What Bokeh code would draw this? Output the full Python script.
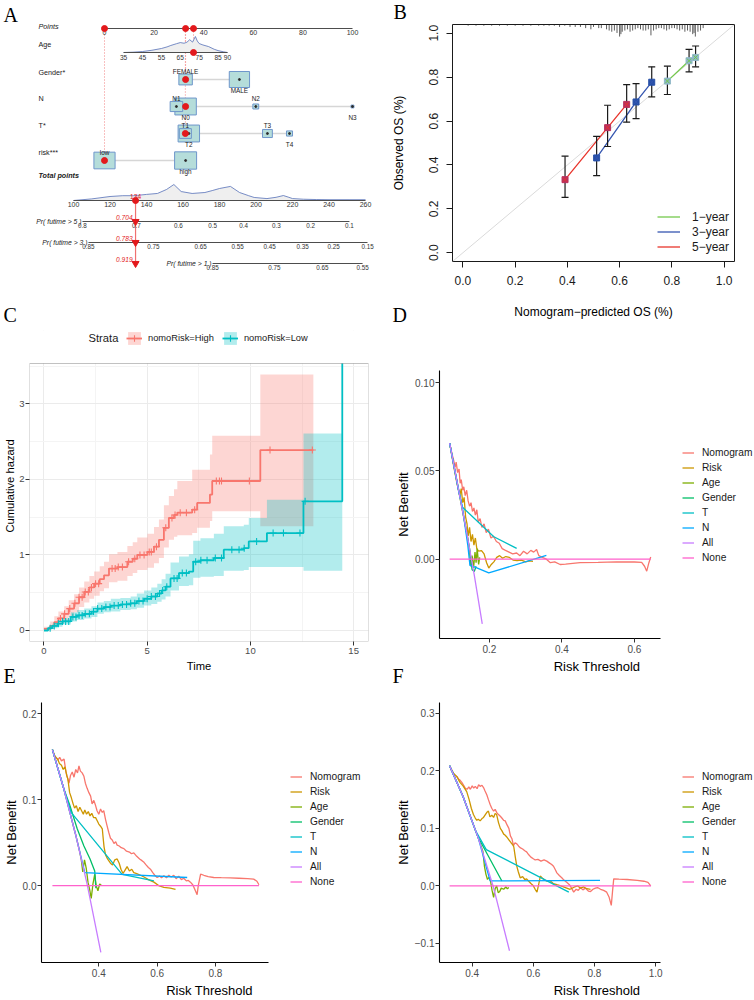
import numpy as np
from bokeh.plotting import figure
from bokeh.layouts import row, column
from bokeh.models import (Range1d, Label, Legend, LegendItem, FixedTicker, BoxAnnotation,
                          CustomJSTickFormatter)
from bokeh.core.properties import value
from bokeh.embed import file_html
from bokeh.resources import INLINE

SANS = "Liberation Sans"
SERIF = "Liberation Serif"
MARK_RED = "#E3191C"

# ===================== A. nomogram data =====================
POINTS_TICKS = [0, 20, 40, 60, 80, 100]
AGE_TICKS = [35, 45, 55, 65, 75, 85, 90]
AGE_ENDS = [35, 90]
AGE_ENDS_POINTS = [7.7, 49.6]
AGE_DENS_X = [35, 40, 45, 50, 55, 58, 60, 63, 65, 67, 68.5, 70, 71.5, 73, 74, 75, 77, 80, 83, 85, 88, 90]
AGE_DENS_Y = [0.0, 0.02, 0.06, 0.14, 0.25, 0.35, 0.44, 0.55, 0.62, 0.58, 0.64, 0.8, 0.65, 1.0, 0.72,
              0.56, 0.47, 0.37, 0.2, 0.12, 0.04, 0.0]

GENDER_LEVELS = ["FEMALE", "MALE"]
GENDER_POINTS = [32.7, 54.4]
GENDER_COUNTS = [150, 340]
N_LEVELS = ["N0", "N1", "N2", "N3"]
N_POINTS = [32.7, 29.0, 61.0, 100.0]
N_COUNTS = [380, 130, 28, 7]
T_LEVELS = ["T1", "T2", "T3", "T4"]
T_POINTS = [32.6, 34.0, 65.7, 74.6]
T_COUNTS = [120, 380, 80, 30]
RISK_LEVELS = ["low", "high"]
RISK_POINTS = [0.0, 32.7]
RISK_COUNTS = [370, 400]

PATIENT_AGE = 72
PATIENT_GENDER, PATIENT_N, PATIENT_T, PATIENT_RISK = "FEMALE", "N0", "T1", "low"
PATIENT_TOTAL = 134
PATIENT_SURV = ["0.704", "0.783", "0.919"]

TOTAL_TICKS = [100, 120, 140, 160, 180, 200, 220, 240, 260]
TOTAL_DENS_X = [100, 110, 120, 127, 133, 140, 146, 151, 155, 159, 165, 172, 176, 180, 186, 191, 196,
                199, 206, 211, 215, 218, 220, 226, 233, 240, 251, 260]
TOTAL_DENS_Y = [0.0, 0.1, 0.25, 0.3, 0.3, 0.38, 0.44, 0.69, 1.0, 0.56, 0.44, 0.5, 0.62, 0.75, 0.88,
                0.5, 0.3, 0.19, 0.12, 0.2, 0.31, 0.2, 0.12, 0.08, 0.06, 0.05, 0.05, 0.05]

SURV5_LABELS = ["0.8", "0.7", "0.6", "0.5", "0.4", "0.3", "0.2", "0.1"]
SURV5_TOTAL = [104.9, 134.5, 157.5, 176.2, 193.2, 211.2, 229.9, 251.2]
SURV3_LABELS = ["0.85", "0.75", "0.65", "0.55", "0.45", "0.35", "0.25", "0.15"]
SURV3_TOTAL = [108.2, 143.8, 169.6, 189.9, 207.4, 225.5, 242.5, 261.1]
SURV1_LABELS = ["0.85", "0.75", "0.65", "0.55"]
SURV1_TOTAL = [176.2, 210.1, 236.4, 258.4]

# ===================== B. calibration data =====================
CAL_NAMES = ["1\u2212year", "3\u2212year", "5\u2212year"]
CAL1_PRED = [0.783, 0.866, 0.891]
CAL1_OBS = [0.782, 0.875, 0.890]
CAL1_LO = [0.721, 0.824, 0.847]
CAL1_HI = [0.850, 0.927, 0.942]
CAL3_PRED = [0.512, 0.663, 0.723]
CAL3_OBS = [0.432, 0.687, 0.777]
CAL3_LO = [0.351, 0.611, 0.710]
CAL3_HI = [0.530, 0.771, 0.847]
CAL5_PRED = [0.391, 0.554, 0.627]
CAL5_OBS = [0.333, 0.570, 0.676]
CAL5_LO = [0.252, 0.484, 0.595]
CAL5_HI = [0.440, 0.672, 0.766]
RUG_X = [0.02, 0.05, 0.08, 0.11, 0.14, 0.17, 0.2, 0.23, 0.26, 0.29, 0.31, 0.33, 0.35, 0.37, 0.39,
         0.41, 0.43, 0.45, 0.47, 0.49, 0.5, 0.52, 0.53, 0.55, 0.56, 0.57, 0.58, 0.59, 0.6, 0.605,
         0.61, 0.62, 0.63, 0.64, 0.65, 0.66, 0.67, 0.68, 0.69, 0.7, 0.71, 0.72, 0.73, 0.74, 0.75,
         0.76, 0.77, 0.78, 0.79, 0.8, 0.81, 0.82, 0.83, 0.84, 0.85, 0.86, 0.87, 0.88, 0.885, 0.89,
         0.9, 0.91, 0.92]
RUG_N = [1, 1, 1, 1, 1, 1, 1, 1, 1, 1, 1, 1, 1, 2, 1, 2, 2, 2, 3, 4, 2, 3, 3, 4, 5, 6, 5, 7, 10, 8,
         6, 5, 4, 6, 5, 4, 3, 4, 5, 5, 4, 9, 5, 4, 3, 3, 4, 5, 4, 3, 3, 4, 5, 4, 6, 5, 6, 8, 7, 10,
         6, 5, 3]

# ===================== C. cumulative hazard data =====================
HIGH_T = [0.0, 0.3, 0.5, 0.7, 0.98, 1.2, 1.46, 1.7, 1.95, 2.2, 2.43, 2.7, 2.91, 3.15, 3.56, 4.04,
          4.3, 4.52, 5.01, 5.33, 5.57, 5.81, 6.05, 6.3, 6.46, 7.18, 7.42, 8.04, 8.15, 10.48, 13.05]
HIGH_H = [0.02, 0.06, 0.11, 0.16, 0.22, 0.29, 0.36, 0.44, 0.51, 0.57, 0.62, 0.68, 0.73, 0.82, 0.84,
          0.91, 0.95, 1.0, 1.04, 1.11, 1.2, 1.36, 1.49, 1.53, 1.56, 1.6, 1.69, 1.8, 1.98, 2.39, 2.39]
HIGH_LO = [0.0, 0.02, 0.05, 0.09, 0.13, 0.18, 0.24, 0.31, 0.37, 0.42, 0.46, 0.52, 0.56, 0.64, 0.66,
           0.72, 0.76, 0.8, 0.83, 0.89, 0.96, 1.1, 1.2, 1.24, 1.26, 1.29, 1.36, 1.45, 1.58, 1.38, 1.38]
HIGH_HI = [0.05, 0.12, 0.19, 0.25, 0.32, 0.4, 0.48, 0.57, 0.65, 0.72, 0.78, 0.85, 0.91, 1.01, 1.04,
           1.12, 1.17, 1.23, 1.28, 1.37, 1.47, 1.66, 1.78, 1.87, 1.98, 2.13, 2.13, 2.33, 2.58, 3.39, 3.39]
HIGH_CENSOR = [0.8, 1.0, 1.25, 1.5, 1.7, 1.85, 2.0, 2.15, 2.3, 2.5, 2.65, 3.3, 3.45, 3.6, 3.8, 4.1,
               4.4, 4.65, 4.85, 5.1, 5.2, 5.45, 5.9, 6.2, 6.35, 6.6, 6.9, 7.3, 8.35, 8.5, 8.6, 9.95,
               10.95, 13.0]
LOW_T = [0.0, 0.2, 0.4, 0.66, 0.9, 1.3, 1.6, 1.95, 2.3, 2.59, 2.9, 3.24, 3.7, 4.2, 4.5, 4.85, 5.2,
         5.49, 5.7, 5.89, 6.13, 6.54, 7.02, 7.23, 7.58, 8.23, 8.71, 9.68, 9.92, 10.8, 12.57, 14.45]
LOW_H = [0.0, 0.03, 0.06, 0.09, 0.12, 0.18, 0.2, 0.22, 0.25, 0.29, 0.31, 0.33, 0.345, 0.36, 0.39,
         0.42, 0.45, 0.49, 0.53, 0.58, 0.69, 0.76, 0.78, 0.91, 0.93, 0.96, 1.07, 1.09, 1.18, 1.29,
         1.71, 3.8]
LOW_LO = [0.0, 0.01, 0.03, 0.05, 0.08, 0.12, 0.14, 0.16, 0.18, 0.22, 0.24, 0.25, 0.27, 0.28, 0.3,
          0.33, 0.35, 0.38, 0.41, 0.45, 0.53, 0.59, 0.6, 0.7, 0.71, 0.72, 0.79, 0.8, 0.84, 0.84,
          0.79, 0.79]
LOW_HI = [0.01, 0.05, 0.09, 0.13, 0.16, 0.24, 0.27, 0.29, 0.32, 0.37, 0.39, 0.42, 0.43, 0.45, 0.49,
          0.53, 0.57, 0.62, 0.68, 0.75, 0.9, 0.98, 1.01, 1.19, 1.22, 1.28, 1.38, 1.4, 1.49, 1.73,
          2.61, 2.61]
LOW_CENSOR = [0.3, 0.5, 0.7, 0.9, 1.05, 1.2, 1.4, 1.55, 1.7, 1.85, 2.0, 2.2, 2.4, 2.6, 2.8, 3.0, 3.2,
              3.4, 3.6, 3.8, 4.0, 4.2, 4.4, 4.6, 4.8, 5.0, 5.2, 5.4, 5.6, 5.75, 5.95, 6.3, 6.45, 6.7,
              6.9, 7.35, 7.6, 7.9, 8.3, 8.6, 9.1, 9.45, 9.7, 10.3, 11.1, 11.6, 12.4, 12.65]

# ===================== D/E/F. decision curves =====================
DCA_NAMES = ["Nomogram", "Risk", "Age", "Gender", "T", "N", "All", "None"]
DCA_COLORS = ["#F8766D", "#CD9600", "#7CAE00", "#00BE67", "#00BFC4", "#00A9FF", "#C77CFF", "#FF61CC"]

D_NOMOGRAM = [(0.090, 0.0657), (0.096, 0.060), (0.101, 0.056), (0.105, 0.052), (0.108, 0.055),
              (0.112, 0.049), (0.116, 0.051), (0.119, 0.043), (0.122, 0.045), (0.126, 0.039),
              (0.129, 0.041), (0.133, 0.036), (0.137, 0.039), (0.141, 0.033), (0.145, 0.030),
              (0.149, 0.032), (0.153, 0.027), (0.157, 0.029), (0.161, 0.025), (0.165, 0.028),
              (0.169, 0.021), (0.174, 0.023), (0.179, 0.018), (0.185, 0.020), (0.191, 0.015),
              (0.197, 0.017), (0.204, 0.012), (0.211, 0.013), (0.219, 0.010), (0.227, 0.009),
              (0.235, 0.006), (0.244, 0.005), (0.254, 0.004), (0.264, 0.003), (0.275, 0.0035),
              (0.284, 0.002), (0.294, 0.0045), (0.304, 0.003), (0.314, 0.005), (0.322, 0.004),
              (0.330, 0.0055), (0.336, 0.002), (0.346, 0.001), (0.357, 0.0), (0.368, -0.002),
              (0.380, -0.0015), (0.395, -0.003), (0.410, -0.0028), (0.450, -0.002), (0.500, -0.0018),
              (0.550, -0.0015), (0.600, -0.0016), (0.620, -0.0018), (0.628, -0.004), (0.634, -0.0068),
              (0.640, -0.002), (0.645, 0.0012)]
D_RISK = [(0.090, 0.0657), (0.100, 0.054), (0.110, 0.043), (0.118, 0.036), (0.122, 0.040),
          (0.126, 0.032), (0.130, 0.035), (0.134, 0.024), (0.138, 0.020), (0.141, 0.013),
          (0.145, 0.018), (0.149, 0.010), (0.153, 0.014), (0.157, 0.008), (0.161, 0.012),
          (0.165, 0.006), (0.170, 0.0045), (0.178, 0.0048), (0.185, 0.003), (0.192, -0.002),
          (0.198, -0.005), (0.205, -0.003), (0.212, -0.0015), (0.220, 0.001), (0.228, 0.002),
          (0.236, 0.0005), (0.245, 0.0015), (0.255, 0.001), (0.265, -0.0005), (0.276, -0.0008),
          (0.288, -0.0005), (0.300, -0.0015), (0.310, -0.001), (0.320, -0.0012)]
D_AGE = [(0.090, 0.0657), (0.115, 0.0385), (0.140, 0.0116), (0.145, 0.005), (0.148, -0.004),
         (0.152, 0.002), (0.156, -0.005), (0.160, 0.004), (0.163, -0.002), (0.166, 0.006),
         (0.170, -0.003), (0.173, 0.001)]
D_GENDER = [(0.090, 0.0657), (0.120, 0.034), (0.145, 0.006), (0.152, -0.006), (0.158, -0.007),
            (0.163, -0.004)]
D_T = [(0.090, 0.0657), (0.115, 0.0385), (0.125, 0.0295), (0.212, 0.0127), (0.275, 0.0061)]
D_N = [(0.090, 0.0657), (0.115, 0.0385), (0.125, 0.0295), (0.140, 0.008), (0.146, -0.0035),
       (0.160, -0.0045), (0.198, -0.0078), (0.357, 0.0021)]
D_ALL = [(0.090, 0.0657), (0.113, 0.041), (0.135, 0.0174), (0.158, -0.009), (0.180, -0.0366)]
D_NONE = [(0.090, 0.0), (0.645, 0.0)]

E_NOMOGRAM = [(0.241, 0.158), (0.247, 0.152), (0.253, 0.149), (0.260, 0.146), (0.266, 0.149),
              (0.272, 0.145), (0.281, 0.147), (0.287, 0.133), (0.292, 0.126), (0.298, 0.119),
              (0.303, 0.128), (0.309, 0.132), (0.315, 0.126), (0.321, 0.135), (0.327, 0.131),
              (0.332, 0.139), (0.337, 0.133), (0.343, 0.131), (0.349, 0.127), (0.354, 0.119),
              (0.360, 0.113), (0.366, 0.108), (0.372, 0.104), (0.377, 0.095), (0.383, 0.099),
              (0.389, 0.093), (0.394, 0.087), (0.400, 0.083), (0.406, 0.089), (0.412, 0.085),
              (0.417, 0.087), (0.423, 0.077), (0.428, 0.070), (0.434, 0.062), (0.440, 0.055),
              (0.446, 0.053), (0.452, 0.049), (0.458, 0.051), (0.463, 0.047), (0.470, 0.046),
              (0.477, 0.044), (0.486, 0.043), (0.495, 0.040), (0.505, 0.039), (0.512, 0.037),
              (0.520, 0.038), (0.530, 0.034), (0.540, 0.031), (0.548, 0.029), (0.555, 0.027),
              (0.562, 0.024), (0.570, 0.021), (0.577, 0.019), (0.585, 0.015), (0.592, 0.012),
              (0.600, 0.0094), (0.608, 0.011), (0.615, 0.009), (0.623, 0.0115), (0.632, 0.009),
              (0.640, 0.012), (0.648, 0.010), (0.657, 0.012), (0.665, 0.008), (0.674, 0.011),
              (0.683, 0.007), (0.691, 0.0085), (0.700, 0.0055), (0.707, 0.006), (0.714, 0.004),
              (0.722, 0.001), (0.730, -0.005), (0.737, -0.0105), (0.741, 0.0), (0.749, 0.0134),
              (0.760, 0.012), (0.775, 0.0105), (0.794, 0.0094), (0.820, 0.0092), (0.850, 0.009),
              (0.880, 0.0085), (0.910, 0.008), (0.931, 0.0075), (0.942, 0.005), (0.949, 0.001)]
E_RISK = [(0.241, 0.158), (0.250, 0.150), (0.259, 0.147), (0.265, 0.142), (0.272, 0.140),
          (0.278, 0.135), (0.284, 0.138), (0.290, 0.128), (0.294, 0.124), (0.300, 0.108),
          (0.306, 0.102), (0.312, 0.095), (0.317, 0.090), (0.323, 0.093), (0.329, 0.086),
          (0.335, 0.091), (0.341, 0.087), (0.347, 0.083), (0.352, 0.088), (0.358, 0.083),
          (0.364, 0.086), (0.370, 0.081), (0.376, 0.084), (0.382, 0.079), (0.389, 0.079),
          (0.395, 0.075), (0.400, 0.0715), (0.406, 0.069), (0.412, 0.066), (0.415, 0.055),
          (0.418, 0.045), (0.423, 0.036), (0.430, 0.031), (0.440, 0.026), (0.447, 0.024),
          (0.455, 0.030), (0.463, 0.031), (0.470, 0.026), (0.476, 0.019), (0.483, 0.014),
          (0.490, 0.018), (0.497, 0.022), (0.505, 0.017), (0.513, 0.019), (0.520, 0.015),
          (0.530, 0.014), (0.543, 0.012), (0.555, 0.010), (0.570, 0.007), (0.589, 0.004),
          (0.605, 0.0), (0.623, -0.002), (0.645, -0.003), (0.663, -0.0045)]
E_AGE = [(0.241, 0.158), (0.280, 0.1125), (0.320, 0.060), (0.334, 0.040), (0.340, 0.030),
         (0.345, 0.016), (0.351, 0.030), (0.357, 0.020), (0.363, 0.004), (0.369, -0.005),
         (0.374, -0.015), (0.380, 0.002), (0.386, 0.013), (0.391, 0.0), (0.397, -0.006),
         (0.403, 0.002), (0.409, 0.0)]
E_GENDER = [(0.241, 0.158), (0.280, 0.1125), (0.300, 0.094), (0.326, 0.066), (0.349, 0.046),
            (0.370, 0.031), (0.386, 0.017), (0.390, -0.003)]
E_T = [(0.241, 0.158), (0.280, 0.1125), (0.305, 0.085), (0.480, 0.013), (0.589, 0.0056)]
E_N = [(0.241, 0.158), (0.280, 0.1125), (0.320, 0.060), (0.345, 0.025), (0.352, 0.015), (0.703, 0.0094)]
E_ALL = [(0.241, 0.158), (0.280, 0.1125), (0.320, 0.060), (0.360, 0.0016), (0.407, -0.0776)]
E_NONE = [(0.241, 0.0), (0.949, 0.0)]

F_NOMOGRAM = [(0.326, 0.209), (0.333, 0.200), (0.338, 0.196), (0.344, 0.192), (0.350, 0.190),
              (0.355, 0.186), (0.360, 0.184), (0.366, 0.180), (0.372, 0.175), (0.377, 0.170),
              (0.383, 0.168), (0.389, 0.172), (0.394, 0.168), (0.400, 0.174), (0.405, 0.170),
              (0.410, 0.173), (0.416, 0.169), (0.421, 0.176), (0.426, 0.173), (0.432, 0.175),
              (0.437, 0.171), (0.442, 0.165), (0.448, 0.158), (0.453, 0.150), (0.459, 0.141),
              (0.464, 0.135), (0.470, 0.130), (0.475, 0.133), (0.481, 0.127), (0.486, 0.124),
              (0.492, 0.121), (0.497, 0.118), (0.503, 0.114), (0.508, 0.113), (0.514, 0.106),
              (0.520, 0.100), (0.525, 0.087), (0.530, 0.082), (0.535, 0.070), (0.540, 0.075),
              (0.546, 0.073), (0.552, 0.069), (0.558, 0.066), (0.565, 0.064), (0.572, 0.061),
              (0.578, 0.059), (0.585, 0.054), (0.592, 0.050), (0.600, 0.047), (0.606, 0.045),
              (0.615, 0.046), (0.625, 0.043), (0.635, 0.045), (0.644, 0.043), (0.652, 0.040),
              (0.660, 0.037), (0.666, 0.034), (0.672, 0.028), (0.677, 0.0226), (0.685, 0.018),
              (0.693, 0.014), (0.700, 0.010), (0.710, 0.0056), (0.718, 0.002), (0.725, -0.004),
              (0.732, -0.011), (0.740, -0.006), (0.747, -0.008), (0.754, -0.003), (0.762, -0.007),
              (0.770, -0.004), (0.780, -0.009), (0.787, -0.010), (0.795, -0.006), (0.803, -0.004),
              (0.810, -0.003), (0.820, -0.006), (0.830, -0.008), (0.840, -0.011), (0.848, -0.020),
              (0.855, -0.034), (0.859, -0.010), (0.863, 0.012), (0.880, 0.0115), (0.907, 0.011),
              (0.940, 0.0095), (0.962, 0.008), (0.975, 0.006), (0.984, 0.0)]
F_RISK = [(0.326, 0.209), (0.340, 0.195), (0.350, 0.190), (0.360, 0.180), (0.370, 0.174),
          (0.382, 0.164), (0.390, 0.150), (0.397, 0.135), (0.404, 0.124), (0.410, 0.118),
          (0.415, 0.114), (0.420, 0.116), (0.426, 0.113), (0.432, 0.117), (0.437, 0.119),
          (0.443, 0.124), (0.448, 0.128), (0.453, 0.130), (0.458, 0.120), (0.464, 0.123),
          (0.470, 0.119), (0.475, 0.126), (0.480, 0.124), (0.486, 0.110), (0.492, 0.100),
          (0.497, 0.096), (0.503, 0.090), (0.508, 0.088), (0.513, 0.085), (0.520, 0.080),
          (0.527, 0.075), (0.532, 0.072), (0.536, 0.068), (0.541, 0.050), (0.546, 0.034),
          (0.551, 0.024), (0.557, 0.014), (0.565, 0.016), (0.572, 0.011), (0.578, 0.012),
          (0.585, 0.008), (0.592, 0.004), (0.600, 0.0), (0.606, -0.006), (0.612, -0.011),
          (0.618, 0.004), (0.623, 0.017), (0.630, 0.013), (0.637, 0.010), (0.645, 0.008),
          (0.655, 0.009), (0.665, 0.004), (0.677, 0.002), (0.690, 0.0), (0.705, -0.003),
          (0.720, -0.006), (0.735, -0.002), (0.745, 0.0), (0.754, -0.004), (0.765, -0.002),
          (0.775, -0.005), (0.787, -0.006)]
F_AGE = [(0.326, 0.209), (0.370, 0.1556), (0.420, 0.083), (0.435, 0.060), (0.440, 0.034),
         (0.445, 0.020), (0.450, 0.011), (0.455, 0.015), (0.460, 0.008), (0.465, -0.008),
         (0.470, -0.020), (0.475, -0.005), (0.480, 0.0), (0.485, -0.012), (0.490, -0.010),
         (0.495, -0.004), (0.503, -0.006), (0.510, -0.002), (0.515, -0.005), (0.520, -0.003)]
F_GENDER = [(0.326, 0.209), (0.370, 0.1556), (0.420, 0.083), (0.426, 0.078), (0.497, 0.0085)]
F_T = [(0.326, 0.209), (0.370, 0.1556), (0.410, 0.097), (0.446, 0.063), (0.716, -0.011)]
F_N = [(0.326, 0.209), (0.370, 0.1556), (0.420, 0.083), (0.450, 0.025), (0.459, 0.0085), (0.818, 0.0096)]
F_ALL = [(0.326, 0.209), (0.370, 0.1556), (0.420, 0.083), (0.470, -0.0034), (0.522, -0.113)]
F_NONE = [(0.326, 0.0), (0.985, 0.0)]


# ===================== helpers =====================
def canvas_label(p, side, x, y, text, size, font=SANS, color="#000000", align="left", style="normal"):
    """Text placed in canvas pixels of figure p, held in one of its side panels."""
    lab = Label(x=x, y=y, x_units="canvas", y_units="canvas", text=text, text_font=font,
                text_font_size=size, text_color=color, text_align=align,
                text_baseline="middle", text_font_style=style)
    p.add_layout(lab, side)


def base_figure(w, h, xr, yr, left, right, top, bottom):
    p = figure(width=w, height=h, x_range=Range1d(*xr), y_range=Range1d(*yr),
               min_border_left=left, min_border_right=right, min_border_top=top,
               min_border_bottom=bottom, toolbar_location=None, output_backend="svg",
               frame_align=False)
    p.background_fill_color = "white"
    p.border_fill_color = "white"
    return p


def style_axes(p, tick_size, tick_color, title_size):
    for ax in (p.xaxis, p.yaxis):
        ax.major_label_text_font = SANS
        ax.major_label_text_font_size = tick_size
        ax.major_label_text_color = tick_color
        ax.axis_label_text_font = SANS
        ax.axis_label_text_font_size = title_size
        ax.axis_label_text_font_style = "normal"
        ax.axis_label_text_color = "#000000"
        ax.minor_tick_line_color = None


# ===================== A. nomogram =====================
A_W, A_H = 377, 328
PX_ZERO, PX_PER_POINT = 104.0, 2.48
TOTAL_PX = (73.0, 365.0)


def page_to_points(px):
    return (np.asarray(px, dtype=float) - PX_ZERO) / PX_PER_POINT


def total_to_points(tp):
    tp = np.asarray(tp, dtype=float)
    px = TOTAL_PX[0] + (tp - TOTAL_TICKS[0]) * (TOTAL_PX[1] - TOTAL_PX[0]) / (TOTAL_TICKS[-1] - TOTAL_TICKS[0])
    return page_to_points(px)


def age_to_points(a):
    return np.interp(a, AGE_ENDS, AGE_ENDS_POINTS)


pA = figure(width=A_W, height=A_H, x_range=Range1d(float(page_to_points(0)), float(page_to_points(A_W))),
            y_range=Range1d(A_H, 0), toolbar_location=None, output_backend="svg",
            x_axis_location=None, y_axis_location=None, min_border=0, frame_align=False)
pA.outline_line_color = None
pA.grid.visible = False

ROW = dict(points=28, age=52, gender=79, n=106, t=133, risk=160, total=200, s5=221, s3=242, s1=263)
LABEL_X = float(page_to_points(38))
AX_COL = "#4D4D4D"


def atext(x, y, s, size, color="#1A1A1A", align="left", style="normal", x_offset=0, font=SANS):
    xs = list(np.atleast_1d(np.asarray(x, dtype=float)))
    ys = list(np.broadcast_to(np.asarray(y, dtype=float), (len(xs),)))
    ss = list(np.broadcast_to(np.asarray(s), (len(xs),)))
    pA.text(x=xs, y=ys, text=[str(v) for v in ss], text_font=value(font),
            text_font_size=value(size), text_color=color, text_align=align,
            text_baseline="middle", text_font_style=style, x_offset=x_offset)


for lab, yy, st in [("Points", 26, "italic"), ("Age", 44, "normal"), ("Gender*", 72, "normal"),
                    ("N", 98, "normal"), ("T*", 125, "normal"), ("risk***", 152, "normal"),
                    ("Total points", 175, "bold italic")]:
    atext(LABEL_X, yy, lab, "7.2px", style=st)

# selection guides (drawn first so that marks sit on top)
age_pts = float(age_to_points(PATIENT_AGE))
sel_gender = GENDER_POINTS[GENDER_LEVELS.index(PATIENT_GENDER)]
sel_n = N_POINTS[N_LEVELS.index(PATIENT_N)]
sel_t = T_POINTS[T_LEVELS.index(PATIENT_T)]
sel_risk = RISK_POINTS[RISK_LEVELS.index(PATIENT_RISK)]
pA.segment(x0=[age_pts, sel_gender, sel_t, sel_risk], y0=ROW["points"],
           x1=[age_pts, sel_gender, sel_t, sel_risk], y1=[ROW["age"], ROW["gender"], ROW["t"], ROW["risk"]],
           line_color="#F08080", line_width=1, line_dash="1 2")

# points scale
pA.segment(x0=[0], y0=[ROW["points"]], x1=[100], y1=[ROW["points"]], line_color=AX_COL, line_width=1)
atext(POINTS_TICKS, ROW["points"] + 4.2, POINTS_TICKS, "7px", color="#333333", align="center")

# age scale with density
dens_x = age_to_points(AGE_DENS_X)
dens_top = ROW["age"] - np.array(AGE_DENS_Y) * 16
pA.varea(x=dens_x, y1=ROW["age"], y2=dens_top, fill_color="#EFEFEF")
pA.line(x=dens_x, y=dens_top, line_color="#5570B8", line_width=0.8)
pA.segment(x0=[age_to_points(AGE_ENDS[0])], y0=[ROW["age"]], x1=[age_to_points(AGE_ENDS[1])],
           y1=[ROW["age"]], line_color=AX_COL, line_width=1)
atext(age_to_points(AGE_TICKS), ROW["age"] + 4.5, AGE_TICKS, "6.6px", color="#333333", align="center")


def factor_row(levels, pts, counts, y, chosen):
    pts = np.array(pts, dtype=float)
    counts = np.array(counts, dtype=float)
    pA.segment(x0=[pts.min()], y0=[y], x1=[pts.max()], y1=[y], line_color="#D6D6D6", line_width=1.6)
    w = 1.1 * np.sqrt(counts)
    h = 0.76 * w + 0.6
    order = np.argsort(-counts)
    pA.rect(x=pts[order], y=y, width=w[order], height=h[order], width_units="screen",
            height_units="screen", fill_color="#B5DDDA", line_color="#6E96CB", line_width=1)
    pA.scatter(x=pts, y=y, size=2, color="#2B2B2B")
    rank = np.argsort(np.argsort(pts))
    for lev, x, r in zip(levels, pts, rank):
        atext(x, y - 8.2 if r % 2 == 0 else y + 10.6, lev, "6.4px", color="#1A1A1A", align="center")
    pA.scatter(x=[pts[levels.index(chosen)]], y=[y], size=6, color=MARK_RED)


factor_row(GENDER_LEVELS, GENDER_POINTS, GENDER_COUNTS, ROW["gender"], PATIENT_GENDER)
factor_row(N_LEVELS, N_POINTS, N_COUNTS, ROW["n"], PATIENT_N)
factor_row(T_LEVELS, T_POINTS, T_COUNTS, ROW["t"], PATIENT_T)
factor_row(RISK_LEVELS, RISK_POINTS, RISK_COUNTS, ROW["risk"], PATIENT_RISK)

pA.scatter(x=[age_pts], y=[ROW["age"]], size=6, color=MARK_RED)
pA.scatter(x=[age_pts, sel_gender, sel_risk], y=ROW["points"], size=6, color=MARK_RED)

# total points with density
tdx = total_to_points(TOTAL_DENS_X)
tdy = ROW["total"] - np.array(TOTAL_DENS_Y) * 16
pA.varea(x=tdx, y1=ROW["total"], y2=tdy, fill_color="#EFEFEF")
pA.line(x=tdx, y=tdy, line_color="#5570B8", line_width=0.8)
pA.segment(x0=[total_to_points(TOTAL_TICKS[0])], y0=[ROW["total"]],
           x1=[total_to_points(TOTAL_TICKS[-1])], y1=[ROW["total"]], line_color=AX_COL, line_width=1)
atext(total_to_points(TOTAL_TICKS), ROW["total"] + 4.2, TOTAL_TICKS, "7px", color="#333333", align="center")

tot_x = float(total_to_points(PATIENT_TOTAL))
pA.segment(x0=[tot_x], y0=[ROW["total"]], x1=[tot_x], y1=[ROW["s1"]], line_color="#F07070", line_width=1.2)
pA.scatter(x=[tot_x], y=[ROW["total"]], size=6, color=MARK_RED)
atext(tot_x, ROW["total"] - 4.5, str(PATIENT_TOTAL), "6.6px", color=MARK_RED, align="center")

for (labels, tps, y, name, val) in [
        (SURV5_LABELS, SURV5_TOTAL, ROW["s5"], "Pr( futime > 5 )", PATIENT_SURV[0]),
        (SURV3_LABELS, SURV3_TOTAL, ROW["s3"], "Pr( futime > 3 )", PATIENT_SURV[1]),
        (SURV1_LABELS, SURV1_TOTAL, ROW["s1"], "Pr( futime > 1 )", PATIENT_SURV[2])]:
    xs = total_to_points(tps)
    pA.segment(x0=[xs[0]], y0=[y], x1=[xs[-1]], y1=[y], line_color=AX_COL, line_width=1)
    atext(xs, y + 4.3, labels, "6.3px", color="#333333", align="center")
    atext(xs[0], y - 0.5, name, "6.8px", color="#1A1A1A", align="right", style="italic", x_offset=-1)
    pA.scatter(x=[tot_x], y=[y], marker="inverted_triangle", size=7, color=MARK_RED)
    atext(tot_x, y - 4.2, val, "6.6px", color=MARK_RED, align="right", style="italic", x_offset=-3)

# panel letters that fall inside this canvas
atext(page_to_points(3), 14, "A", "20px", color="#000000", font=SERIF)
atext(page_to_points(3), 314, "C", "20px", color="#000000", font=SERIF)

# ===================== B. calibration =====================
B_X, B_Y = 377, 0
B_W, B_H = 377, 343
B_L, B_R, B_T, B_B = 75, 20, 24, 82
pB = base_figure(B_W, B_H, (-0.04, 1.04), (-0.04, 1.04), B_L, B_R, B_T, B_B)
pB.grid.visible = False
pB.outline_line_color = "#1A1A1A"
pB.outline_line_width = 1
for ax in (pB.xaxis, pB.yaxis):
    ax.ticker = FixedTicker(ticks=[0, 0.2, 0.4, 0.6, 0.8, 1.0])
    ax.bounds = (0, 1)
    ax.formatter = CustomJSTickFormatter(code="return tick.toFixed(1);")
    ax.major_tick_out = 6
    ax.major_tick_in = 0
    ax.axis_line_color = "#1A1A1A"
    ax.major_tick_line_color = "#1A1A1A"
style_axes(pB, "12px", "#1A1A1A", "12px")
pB.yaxis.major_label_orientation = "vertical"
pB.xaxis.major_label_standoff = 8
pB.yaxis.major_label_standoff = 8
pB.xaxis.axis_label = "Nomogram\u2212predicted OS (%)"
pB.yaxis.axis_label = "Observed OS (%)"
pB.xaxis.axis_label_standoff = 17
pB.yaxis.axis_label_standoff = 21

pB.line(x=[-0.04, 1.04], y=[-0.04, 1.04], line_color="#DADADA", line_width=1)
rug_top = 1.04
rug_len = np.array(RUG_N) / max(RUG_N) * 0.055
pB.segment(x0=RUG_X, y0=rug_top, x1=RUG_X, y1=rug_top - rug_len, line_color="#333333", line_width=0.8)

CAL_LINE = ["#74C94C", "#3556B0", "#E8352C"]
CAL_FILL = ["#8FB7C9", "#2750A8", "#B8305E"]
cal_sets = [(CAL1_PRED, CAL1_OBS, CAL1_LO, CAL1_HI), (CAL3_PRED, CAL3_OBS, CAL3_LO, CAL3_HI),
            (CAL5_PRED, CAL5_OBS, CAL5_LO, CAL5_HI)]
cal_lines = []
for (pred, obs, lo, hi), lc in zip(cal_sets, CAL_LINE):
    cal_lines.append(pB.line(x=pred, y=obs, line_color=lc, line_width=1.3))
for (pred, obs, lo, hi), lc, fc in zip(cal_sets, CAL_LINE, CAL_FILL):
    pB.segment(x0=pred, y0=lo, x1=pred, y1=hi, line_color="#1A1A1A", line_width=1.2)
    pB.scatter(x=pred + pred, y=lo + hi, marker="dash", size=7, line_color="#1A1A1A", line_width=1.2)
    pB.scatter(x=pred, y=obs, marker="square", size=6, fill_color=fc, line_color=fc)
    pB.scatter(x=pred, y=obs, marker="x", size=6, line_color=lc, line_width=1)

legB = Legend(items=[LegendItem(label=n, renderers=[r]) for n, r in zip(CAL_NAMES, cal_lines)],
              location=(205, 6.8), orientation="vertical", padding=0, spacing=0, margin=0,
              glyph_width=23, glyph_height=15, label_height=15, label_standoff=12,
              label_text_font=SANS, label_text_font_size="12px", label_text_color="#1A1A1A",
              border_line_color=None, background_fill_alpha=0)
pB.add_layout(legB)
canvas_label(pB, "above", 393 - B_X, 11 - B_Y, "B", "20px", font=SERIF)
canvas_label(pB, "below", 392 - B_X, 314 - B_Y, "D", "20px", font=SERIF)

# ===================== C. cumulative hazard =====================
C_X, C_Y = 0, A_H
C_W, C_H = 377, 371
C_L, C_R, C_T, C_B = 29, 9, 2, 58
C_PX_PER_UNIT = 75.5
C_Y_DATA = (-0.146, 3.536)          # plotting window of the hazard axis
C_PANEL_TOP = 363                   # page y of the top edge of that window
c_top = C_Y_DATA[1] + (C_PANEL_TOP - (C_Y + C_T)) / C_PX_PER_UNIT
pC = base_figure(C_W, C_H, (-0.7, 15.72), (C_Y_DATA[0], c_top), C_L, C_R, C_T, C_B)
pC.outline_line_color = None
pC.xaxis.ticker = FixedTicker(ticks=[0, 5, 10, 15], minor_ticks=[2.5, 7.5, 12.5])
pC.yaxis.ticker = FixedTicker(ticks=[0, 1, 2, 3], minor_ticks=[0.5, 1.5, 2.5, 3.5])
pC.yaxis.bounds = C_Y_DATA
pC.grid.grid_line_color = "#EBEBEB"
pC.grid.minor_grid_line_color = "#F4F4F4"
style_axes(pC, "9.5px", "#4D4D4D", "11.2px")
for ax in (pC.xaxis, pC.yaxis):
    ax.axis_line_color = None
    ax.major_tick_out = 4
    ax.major_tick_in = 0
    ax.major_tick_line_color = "#333333"
    ax.major_label_standoff = 2
    ax.axis_label_standoff = 3
pC.yaxis.major_label_standoff = 1
pC.yaxis.axis_label_standoff = 0
pC.xaxis.axis_label = "Time"
pC.yaxis.axis_label = "Cumulative hazard"


def stepify(t, v):
    t = np.asarray(t, dtype=float)
    v = np.asarray(v, dtype=float)
    return np.repeat(t, 2)[1:], np.repeat(v, 2)[:-1]


def censor_y(t, h, c):
    idx = np.searchsorted(np.asarray(t), np.asarray(c), side="right") - 1
    return np.asarray(h)[idx]


strata = [("nomoRisk=High", "#F8766D", HIGH_T, HIGH_H, HIGH_LO, HIGH_HI, HIGH_CENSOR),
          ("nomoRisk=Low", "#00BFC4", LOW_T, LOW_H, LOW_LO, LOW_HI, LOW_CENSOR)]
bands = []
for name, col, t, hz, lo, hi, cens in strata:
    sx, slo = stepify(t, lo)
    _, shi = stepify(t, hi)
    bands.append(pC.varea(x=sx, y1=slo, y2=shi, fill_color=col, fill_alpha=0.3))
c_items = []
for (name, col, t, hz, lo, hi, cens), band in zip(strata, bands):
    sx, sy = stepify(t, hz)
    ln = pC.line(x=sx, y=sy, line_color=col, line_width=1.8)
    cr = pC.scatter(x=cens, y=censor_y(t, hz, cens), marker="cross", size=7, line_color=col, line_width=1.1)
    c_items.append(LegendItem(label=name, renderers=[band, ln, cr]))

# the legend strip above the panel border stays white; the border itself is a box
pC.add_layout(BoxAnnotation(bottom=C_Y_DATA[1], fill_color="white", fill_alpha=1.0, line_alpha=0))
pC.add_layout(BoxAnnotation(top=C_Y_DATA[1], fill_alpha=0, line_color="#333333", line_width=1))
c_frame_bottom = C_Y + C_H - C_B
legC = Legend(items=c_items, location=(126 - C_L, c_frame_bottom - 345.5), orientation="horizontal",
              padding=0, spacing=8, margin=0, glyph_width=16, glyph_height=16, label_height=16,
              label_standoff=6, label_text_font=SANS, label_text_font_size="9.3px",
              label_text_color="#1A1A1A", border_line_color=None, background_fill_alpha=0)
pC.add_layout(legC)
pC.add_layout(Label(x=88 - C_L, y=c_frame_bottom - 337.5, x_units="screen", y_units="screen",
                    text="Strata", text_font=SANS, text_font_size="11.2px", text_color="#1A1A1A",
                    text_baseline="middle"))
canvas_label(pC, "below", 3 - C_X, 675 - C_Y, "E", "20px", font=SERIF)


# ===================== D / E / F. decision curves =====================
def dca_panel(fig_x, w, h, left, top, bottom, xr, axis_right_px, yr, xticks, yticks, ydigits,
              curves, legend_px):
    # the frame runs to the canvas edge so the legend can sit to the right of the axes
    px_per_unit = (axis_right_px - (fig_x + left)) / (xr[1] - xr[0])
    x_end = xr[0] + (w - left) / px_per_unit
    p = base_figure(w, h, (xr[0], x_end), yr, left, 0, top, bottom)
    p.grid.visible = False
    p.outline_line_color = None
    p.xaxis.ticker = FixedTicker(ticks=xticks)
    p.yaxis.ticker = FixedTicker(ticks=yticks)
    p.xaxis.bounds = xr
    p.xaxis.formatter = CustomJSTickFormatter(code="return tick.toFixed(1);")
    p.yaxis.formatter = CustomJSTickFormatter(
        code="return tick.toFixed(%d).replace('-', '\\u2212');" % ydigits)
    style_axes(p, "10px", "#4D4D4D", "13px")
    for ax in (p.xaxis, p.yaxis):
        ax.axis_line_color = "#000000"
        ax.axis_line_width = 1.1
        ax.major_tick_out = 4
        ax.major_tick_in = 0
        ax.major_tick_line_color = "#333333"
        ax.major_label_standoff = 2
        ax.axis_label_standoff = 3
    p.yaxis.major_label_standoff = 1
    p.yaxis.axis_label_standoff = 1
    p.xaxis.axis_label = "Risk Threshold"
    p.yaxis.axis_label = "Net Benefit"
    rends = []
    for pts, col in zip(curves, DCA_COLORS):
        xs = [q[0] for q in pts]
        ys = [q[1] for q in pts]
        rends.append(p.line(x=xs, y=ys, line_color=col, line_width=1.3))
    leg = Legend(items=[LegendItem(label=n, renderers=[rr]) for n, rr in zip(DCA_NAMES, rends)],
                 location=(legend_px - (fig_x + left), 73.2), orientation="vertical", padding=0,
                 spacing=0, margin=0, glyph_width=12, glyph_height=15, label_height=15,
                 label_standoff=8, label_text_font=SANS, label_text_font_size="10.2px",
                 label_text_color="#1A1A1A", border_line_color=None, background_fill_alpha=0)
    p.add_layout(leg)
    return p


D_X, D_Y = 377, B_H
pD = dca_panel(D_X, 377, 699 - B_H, 62, 370 - B_H, 699 - 638, (0.062, 0.672), 660,
               (-0.0449, 0.1068), [0.2, 0.4, 0.6], [0.0, 0.05, 0.10], 2,
               [D_NOMOGRAM, D_RISK, D_AGE, D_GENDER, D_T, D_N, D_ALL, D_NONE], 682)
canvas_label(pD, "below", 392 - D_X, 675 - D_Y, "F", "20px", font=SERIF)
pE = dca_panel(0, 377, 301, 41, 3, 31, (0.2036, 0.9817), 268, (-0.0894, 0.2128),
               [0.4, 0.6, 0.8], [0.0, 0.1, 0.2], 1,
               [E_NOMOGRAM, E_RISK, E_AGE, E_GENDER, E_T, E_N, E_ALL, E_NONE], 290)
pF = dca_panel(377, 377, 301, 62, 3, 31, (0.293, 1.016), 660, (-0.1334, 0.319),
               [0.4, 0.6, 0.8, 1.0], [-0.1, 0.0, 0.1, 0.2, 0.3], 1,
               [F_NOMOGRAM, F_RISK, F_AGE, F_GENDER, F_T, F_N, F_ALL, F_NONE], 682)

layout = row(column(pA, pC, pE), column(pB, pD, pF))
with open("out.html", "w") as fh:
    fh.write(file_html(layout, INLINE, title="Nomogram model evaluation"))
